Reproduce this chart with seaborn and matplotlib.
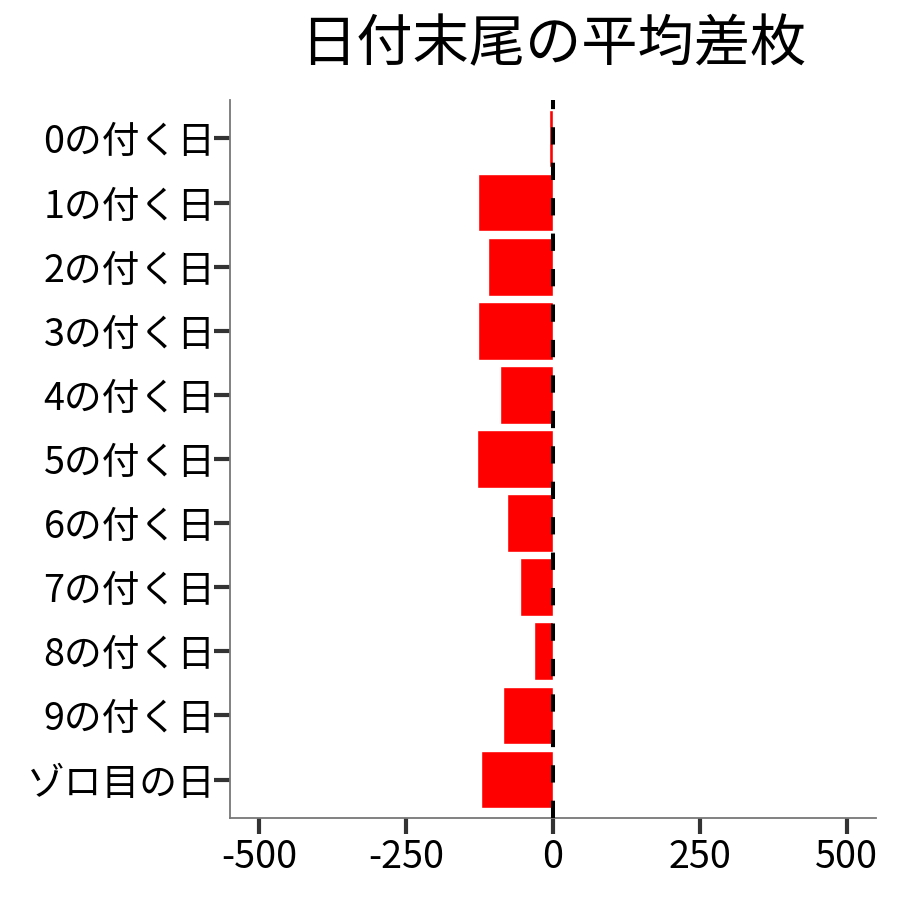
import matplotlib
matplotlib.use('Agg')
import matplotlib.pyplot as plt
import seaborn as sns
import pandas as pd

labels = ['0の付く日', '1の付く日', '2の付く日', '3の付く日', '4の付く日',
          '5の付く日', '6の付く日', '7の付く日', '8の付く日', '9の付く日',
          'ゾロ目の日']
avg_diff = [-7, -128, -111, -127, -90, -129, -79, -57, -33, -86, -122]
xticks = [-500, -250, 0, 250, 500]

df = pd.DataFrame({'label': labels, 'diff': avg_diff})

sns.set_style('white')
plt.rcParams['font.family'] = ['Noto Sans CJK JP', 'DejaVu Sans']

fig = plt.figure(figsize=(9, 9), dpi=100)
ax = fig.add_axes([0.2556, 0.0911, 0.7177, 0.7978])

sns.barplot(data=df, x='diff', y='label', order=labels, color='#FF0000',
            saturation=1, width=0.9, orient='h', ax=ax)
ax.axvline(0, color='black', linewidth=2.9, linestyle=(0, (4.3, 4.5)), zorder=5)

ax.set_xlim(-550, 550)
ax.set_ylim(len(labels) - 0.4, -0.6)
ax.set_xticks(xticks)
ax.set_xticklabels([str(t) for t in xticks])
ax.set_xlabel('')
ax.set_ylabel('')
ax.tick_params(axis='both', labelsize=27.2, length=11.5, width=3, color='#333333',
               labelcolor='black', left=True, bottom=True)
ax.tick_params(axis='x', pad=3)
ax.tick_params(axis='y', pad=-1)

sns.despine(ax=ax)
for side in ['left', 'bottom']:
    ax.spines[side].set_color('#777777')
    ax.spines[side].set_linewidth(1.3)

fig.text(0.6145, 0.95, '日付末尾の平均差枚', fontsize=40.5, color='black',
         ha='center', va='center')

fig.savefig('out.png', dpi=100)
